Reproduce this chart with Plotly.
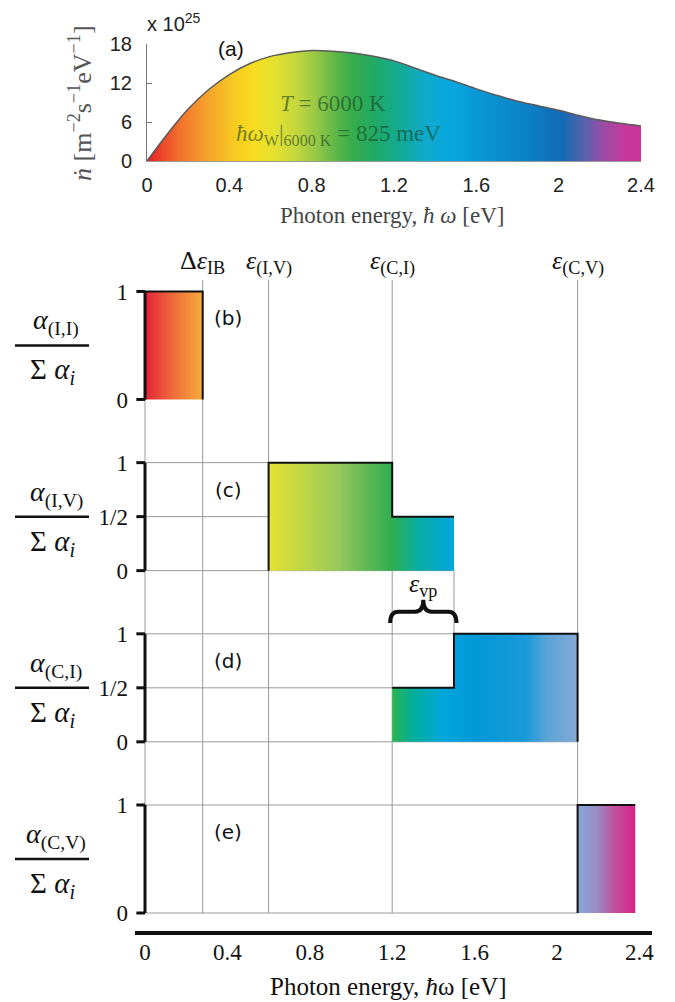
import plotly.graph_objects as go

W, H = 675, 1002

# ---------------- data ----------------
# (a) photon flux spectrum of a 6000 K black body
energy_a = [0.0, 0.1, 0.2, 0.3, 0.4, 0.5, 0.6, 0.7, 0.8, 0.9, 1.0, 1.1, 1.2,
            1.3, 1.4, 1.5, 1.6, 1.7, 1.8, 1.9, 2.0, 2.1, 2.2, 2.3, 2.4]
flux_a = [0.0, 4.2, 8.0, 11.0, 13.3, 15.0, 16.1, 16.7, 17.0, 16.9, 16.6, 16.1, 15.4,
          14.3, 13.2, 12.2, 11.1, 10.1, 9.2, 8.5, 7.8, 7.0, 6.3, 5.8, 5.4]
flux_ticks = [0, 6, 12, 18]
energy_ticks = [0, 0.4, 0.8, 1.2, 1.6, 2.0, 2.4]
energy_tick_text = ["0", "0.4", "0.8", "1.2", "1.6", "2", "2.4"]

# transition thresholds (eV)
dE_IB = 0.28
e_IV = 0.60
e_CI = 1.20
e_vp_end = 1.50
e_CV = 2.10
e_max = 2.38
threshold_x = [dE_IB, e_IV, e_CI, e_CV]
threshold_labels = ["Δ<i>ε</i><sub>IB</sub>", "<i>ε</i><sub>(I,V)</sub>",
                    "<i>ε</i><sub>(C,I)</sub>", "<i>ε</i><sub>(C,V)</sub>"]

# absorption-fraction panels: step outlines (energy, fraction)
b_x = [0, 0, dE_IB, dE_IB]
b_y = [0, 1, 1, 0]
c_x = [e_IV, e_IV, e_CI, e_CI, e_vp_end, e_vp_end]
c_y = [0, 1, 1, 0.5, 0.5, 0]
d_x = [e_CI, e_CI, e_vp_end, e_vp_end, e_CV, e_CV]
d_y = [0, 0.5, 0.5, 1, 1, 0]
e_x = [e_CV, e_CV, e_max, e_max]
e_y = [0, 1, 1, 0]

b_levels = [0, 1]
c_levels = [0, 0.5, 1]
d_levels = [0, 0.5, 1]
e_levels = [0, 1]
level_text = {0: "0", 0.5: "1/2", 1: "1"}

panel_subscripts = ["(I,I)", "(I,V)", "(C,I)", "(C,V)"]
panel_tags = ["(b)", "(c)", "(d)", "(e)"]

# ---------------- styles ----------------
SERIF = "Liberation Serif, Times New Roman, serif"
SANS = "Liberation Sans, Arial, sans-serif"


def px(x):
    return x / W


def py(y):
    return 1 - y / H


def scale(stops, lo, hi):
    return [[(v - lo) / (hi - lo), c] for v, c in stops]


cs_a = scale([(0.00, "#e31f2b"), (0.08, "#ec4a2a"), (0.18, "#f27a2b"), (0.30, "#f6a52c"),
              (0.42, "#f8c921"), (0.52, "#f6dd1f"), (0.62, "#e4e030"), (0.72, "#c5d83c"),
              (0.82, "#98c845"), (0.92, "#5bb748"), (1.00, "#36ad4c"), (1.10, "#22aa64"),
              (1.22, "#12aa90"), (1.35, "#10aacb"), (1.48, "#06a7e0"), (1.65, "#0a93d2"),
              (1.85, "#0b80c5"), (2.02, "#136ab4"), (2.12, "#5563ad"), (2.22, "#9c4ca5"),
              (2.32, "#c6389c"), (2.40, "#cc3399")], 0, 2.4)
cs_b = scale([(0, "#e3223a"), (0.14, "#ef6e3a"), (0.28, "#f6ab3c")], 0, 0.28)
cs_c = scale([(0.6, "#e5e234"), (0.8, "#b8d348"), (0.95, "#94c75c"), (1.1, "#55b653"),
              (1.2, "#2eae50"), (1.32, "#07ad9e"), (1.5, "#02a6e0")], 0.6, 1.5)
cs_d = scale([(1.2, "#2db44e"), (1.3, "#00ae9a"), (1.45, "#00a6dc"), (1.6, "#0098d8"),
              (1.85, "#1a9ad8"), (1.95, "#5aa4d8"), (2.1, "#86a9d6")], 1.2, 2.1)
cs_e = scale([(2.1, "#84a9d8"), (2.2, "#9b88c2"), (2.28, "#c0509c"), (2.38, "#d9248a")], 2.1, 2.38)

PERIOD = 1.585
panels = [
    dict(x=b_x, y=b_y, levels=b_levels, outline=(0, 4), grid_end=[], cs=cs_b, off=3 * PERIOD),
    dict(x=c_x, y=c_y, levels=c_levels, outline=(0, 5), grid_end=[e_vp_end, e_IV, e_IV], cs=cs_c, off=2 * PERIOD),
    dict(x=d_x, y=d_y, levels=d_levels, outline=(1, 6), grid_end=[e_CV, e_CI, e_vp_end], cs=cs_d, off=1 * PERIOD),
    dict(x=e_x, y=e_y, levels=e_levels, outline=(0, 3), grid_end=[e_CV, e_CV], cs=cs_e, off=0.0),
]
TOP_Y = 5.86

fig = go.Figure()

# ---- (a) spectrum ----
fig.add_trace(go.Scatter(
    x=energy_a, y=flux_a, mode="lines", xaxis="x", yaxis="y",
    line=dict(color="#5a5a5a", width=1.5, shape="spline"),
    fill="tozeroy",
    fillgradient=dict(type="horizontal", colorscale=cs_a, start=0, stop=2.4),
    hoverinfo="skip", showlegend=False))

# ---- bottom: gray grid lines ----
gx, gy = [], []
for xv in threshold_x:
    gx += [xv, xv, None]
    gy += [0, TOP_Y, None]
gx += [0, 0, None]
gy += [0, panels[0]["off"] + 1, None]
gx += [e_vp_end, e_vp_end, None]
gy += [panels[2]["off"] + 1, panels[1]["off"], None]
for p in panels:
    for lev, xend in zip(p["levels"], p["grid_end"]):
        gx += [0, xend, None]
        gy += [p["off"] + lev, p["off"] + lev, None]
fig.add_trace(go.Scatter(x=gx, y=gy, mode="lines", xaxis="x2", yaxis="y2",
                         line=dict(color="#9a9a9a", width=1), hoverinfo="skip", showlegend=False))

# ---- bottom: gradient fills and outlines ----
for p in panels:
    ys = [p["off"] + v for v in p["y"]]
    fig.add_trace(go.Scatter(
        x=p["x"], y=ys, mode="none", xaxis="x2", yaxis="y2", fill="toself",
        fillgradient=dict(type="horizontal", colorscale=p["cs"], start=min(p["x"]), stop=max(p["x"])),
        hoverinfo="skip", showlegend=False))
for p in panels:
    i0, i1 = p["outline"]
    ys = [p["off"] + v for v in p["y"]]
    fig.add_trace(go.Scatter(
        x=p["x"][i0:i1], y=ys[i0:i1], mode="lines", xaxis="x2", yaxis="y2",
        line=dict(color="#111111", width=2), hoverinfo="skip", showlegend=False))

# ---- bottom: thick y-axis segments and ticks ----
ax, ay = [], []
for p in panels:
    ax += [0, 0, None]
    ay += [p["off"], p["off"] + 1, None]
    for lev in p["levels"]:
        ax += [-0.042, 0, None]
        ay += [p["off"] + lev, p["off"] + lev, None]
fig.add_trace(go.Scatter(x=ax, y=ay, mode="lines", xaxis="x2", yaxis="y2",
                         line=dict(color="#111111", width=3), hoverinfo="skip", showlegend=False))

ytick_vals, ytick_text = [], []
for p in panels:
    for lev in p["levels"]:
        ytick_vals.append(p["off"] + lev)
        ytick_text.append(level_text[lev])

# ---- shapes ----
shapes = []
for p in panels:
    shapes.append(dict(type="line", xref="paper", yref="y2", x0=px(15), x1=px(89),
                       y0=p["off"] + 0.5, y1=p["off"] + 0.5, line=dict(color="#111", width=2.5)))
# brace for eps_vp
base = panels[2]["off"] + 1
yb, ym, yt = base + 0.10, base + 0.205, base + 0.315
x0, x1 = e_CI - 0.01, e_vp_end + 0.012
xm, q = (x0 + x1) / 2, 0.04
path = (f"M {x0},{yb} Q {x0},{ym} {x0 + q},{ym} L {xm - q},{ym} Q {xm},{ym} {xm},{yt} "
        f"Q {xm},{ym} {xm + q},{ym} L {x1 - q},{ym} Q {x1},{ym} {x1},{yb}")
shapes.append(dict(type="path", xref="x2", yref="y2", path=path,
                   line=dict(color="#111", width=4)))

# ---- annotations ----
ann = []
ann.append(dict(xref="paper", yref="paper", x=px(145), y=py(22), xanchor="left", yanchor="middle",
                text="x 10<sup>25</sup>", showarrow=False, font=dict(family=SANS, size=20, color="#222")))
ann.append(dict(xref="paper", yref="paper", x=px(231), y=py(48), xanchor="center", yanchor="middle",
                text="(a)", showarrow=False, font=dict(family=SANS, size=21, color="#111")))
ann.append(dict(xref="paper", yref="paper", x=px(81), y=py(103), xanchor="center", yanchor="middle",
                textangle=-90, text="<i>ṅ</i> [m<sup>−2</sup>s<sup>−1</sup>eV<sup>−1</sup>]",
                showarrow=False, font=dict(family=SERIF, size=26, color="#555")))
ann.append(dict(xref="paper", yref="paper", x=px(392), y=py(215), xanchor="center", yanchor="middle",
                text="Photon energy, <i>ħ ω</i> [eV]", showarrow=False,
                font=dict(family=SERIF, size=23, color="#444")))
ann.append(dict(xref="paper", yref="paper", x=px(333), y=py(104), xanchor="center", yanchor="middle",
                text="<i>T</i> = 6000 K", showarrow=False,
                font=dict(family=SERIF, size=23, color="rgba(25,70,35,0.62)")))
ann.append(dict(xref="paper", yref="paper", x=px(338), y=py(135), xanchor="center", yanchor="middle",
                text="<i>ħω</i><sub>W</sub>|<sub>6000 K</sub> = 825 meV", showarrow=False,
                font=dict(family=SERIF, size=23, color="rgba(25,70,35,0.62)")))
for xv, t in zip(threshold_x, threshold_labels):
    ann.append(dict(xref="x2", yref="paper", x=xv, y=py(262), xanchor="center", yanchor="middle",
                    text=t, showarrow=False, font=dict(family=SERIF, size=26, color="#111")))
ann.append(dict(xref="x2", yref="y2", x=(e_CI + e_vp_end) / 2, y=base + 0.45,
                xanchor="center", yanchor="middle", text="<i>ε</i><sub>vp</sub>", showarrow=False,
                font=dict(family=SERIF, size=26, color="#111")))
for p, sub, tag in zip(panels, panel_subscripts, panel_tags):
    mid = p["off"] + 0.5
    ann.append(dict(xref="paper", yref="y2", x=px(56), y=mid, yshift=23, xanchor="center",
                    yanchor="middle", text=f"<i>α</i><sub>{sub}</sub>", showarrow=False,
                    font=dict(family=SERIF, size=28, color="#111")))
    ann.append(dict(xref="paper", yref="y2", x=px(52), y=mid, yshift=-26, xanchor="center",
                    yanchor="middle", text="Σ <i>α<sub>i</sub></i>", showarrow=False,
                    font=dict(family=SERIF, size=29, color="#111")))
    ann.append(dict(xref="x2", yref="y2", x=0.403, y=p["off"] + 0.75, xanchor="center",
                    yanchor="middle", text=tag, showarrow=False,
                    font=dict(family="DejaVu Sans, sans-serif", size=20, color="#111")))
ann.append(dict(xref="paper", yref="paper", x=px(388), y=py(986), xanchor="center", yanchor="middle",
                text="Photon energy, <i>ħ</i>ω [eV]", showarrow=False,
                font=dict(family=SERIF, size=25, color="#111")))

x2_lo = -10 / 206
x2_hi = (652 - 145) / 206
y2_lo = -18 / 108
y2_hi = (913 - 279) / 108

fig.update_layout(
    width=W, height=H, margin=dict(l=0, r=0, t=0, b=0, autoexpand=False),
    paper_bgcolor="white", plot_bgcolor="rgba(0,0,0,0)", showlegend=False,
    xaxis=dict(domain=[px(147), px(641)], range=[0, 2.4], anchor="y",
               tickvals=energy_ticks, ticktext=energy_tick_text, ticks="",
               showgrid=False, zeroline=False, showline=True, linecolor="#9a9a9a", linewidth=1,
               tickfont=dict(family=SANS, size=20, color="#222"), ticklabelstandoff=6,
               automargin=False),
    yaxis=dict(domain=[py(161), py(44)], range=[0, 18], anchor="x",
               tickvals=flux_ticks, ticks="inside", ticklen=5, tickcolor="#777",
               showgrid=False, zeroline=False, showline=True, linecolor="#777", linewidth=1,
               tickfont=dict(family=SANS, size=20, color="#222"), ticklabelstandoff=10,
               automargin=False),
    xaxis2=dict(domain=[px(135), px(652)], range=[x2_lo, x2_hi], anchor="y2",
                tickvals=energy_ticks, ticktext=energy_tick_text, ticks="",
                showgrid=False, zeroline=False, showline=True, linecolor="#111", linewidth=3.5,
                tickfont=dict(family=SERIF, size=23, color="#111"), ticklabelstandoff=-2,
                automargin=False),
    yaxis2=dict(domain=[py(931), py(279)], range=[y2_lo, y2_hi], anchor="x2",
                tickvals=ytick_vals, ticktext=ytick_text, ticks="",
                showgrid=False, zeroline=False, showline=False,
                tickfont=dict(family=SERIF, size=23, color="#111"), ticklabelstandoff=6,
                automargin=False),
    shapes=shapes, annotations=ann,
)

fig.write_html(
    "out.html",
    config={"displayModeBar": False},
    post_script="document.body.style.margin='0';document.body.style.padding='0';"
                "document.documentElement.style.overflow='hidden';",
)
